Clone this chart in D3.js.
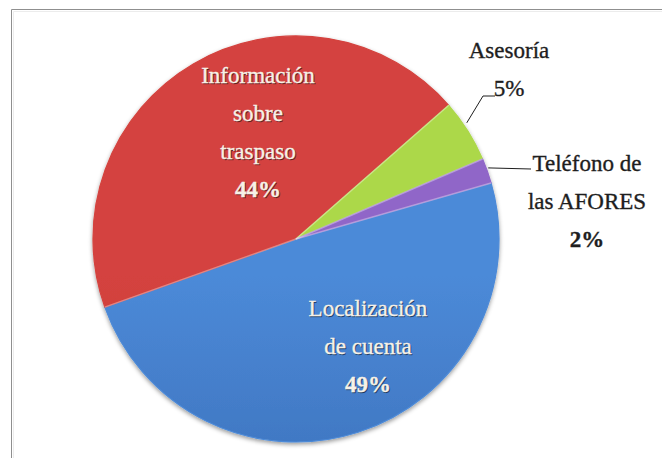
<!DOCTYPE html>
<html>
<head>
<meta charset="utf-8">
<script src="https://cdn.jsdelivr.net/npm/d3@7"></script>
<style>
  body { margin: 0; background: #fff; }
  svg { display: block; }
</style>
</head>
<body>
<div id="chart"></div>
<script>
//chart size
const width = 662;
const height = 458;

//data
const categories = ["Localización de cuenta", "Información sobre traspaso", "Asesoría", "Teléfono de las AFORES"];
const values = [49, 44, 5, 2];
const labelLines = [["Localización", "de cuenta"], ["Información", "sobre", "traspaso"], ["Asesoría"], ["Teléfono de", "las AFORES"]];
const pctLabels = ["49%", "44%", "5%", "2%"];

//colors for each slice (light top, dark bottom)
const lightColors = ["#4c8ad8", "#d4433f", "#acd84a", "#9066c8"];
const darkColors = ["#3160a8", "#bb302d", "#8fc131", "#7150aa"];

const cx = 296, cy = 239, radius = 203;
const fontFamily = '"Liberation Serif"';
const fontSize = "23px";

const svg = d3.select("#chart")
  .append("svg")
  .attr("width", width)
  .attr("height", height);

//frame around the chart
svg.append("path")
  .attr("d", `M11.5,${height} V9.5 H${width}`)
  .attr("fill", "none")
  .attr("stroke", "#8f8f8f");
svg.append("path")
  .attr("d", `M13.5,${height} V11.5 H${width}`)
  .attr("fill", "none")
  .attr("stroke", "#ececec");

const defs = svg.append("defs");

//vertical gradients for the slices
values.forEach((v, i) => {
  const g = defs.append("linearGradient")
    .attr("id", "grad" + i)
    .attr("gradientUnits", "userSpaceOnUse")
    .attr("x1", 0).attr("y1", cy - radius)
    .attr("x2", 0).attr("y2", cy + radius);
  g.append("stop").attr("offset", "0%").attr("stop-color", lightColors[i]);
  g.append("stop").attr("offset", "100%").attr("stop-color", darkColors[i]);
});

//soft shadow under the pie
const shadow = defs.append("filter").attr("id", "shadow")
  .attr("x", "-10%").attr("y", "-10%").attr("width", "120%").attr("height", "125%");
shadow.append("feDropShadow")
  .attr("dx", 0).attr("dy", 2).attr("stdDeviation", 2)
  .attr("flood-color", "#000").attr("flood-opacity", 0.4);

//pie layout, first slice starts at about 74 degrees
const startAngle = 74 * Math.PI / 180;
const pie = d3.pie()
  .sort(null)
  .value((d) => d)
  .startAngle(startAngle)
  .endAngle(startAngle + 2 * Math.PI);

const arcs = pie(values);

const arc = d3.arc().innerRadius(0).outerRadius(radius);
const edgeArc = d3.arc().innerRadius(radius).outerRadius(radius);

const pieG = svg.append("g")
  .attr("transform", `translate(${cx},${cy})`)
  .attr("filter", "url(#shadow)");

pieG.selectAll("path.slice")
  .data(arcs)
  .enter()
  .append("path")
  .attr("class", "slice")
  .attr("d", arc)
  .attr("fill", (d, i) => `url(#grad${i})`)
  .attr("stroke", (d, i) => lightColors[i])
  .attr("stroke-width", 1.2)
  .attr("stroke-linejoin", "round");

//light bevel along the straight edges
pieG.selectAll("path.bevel")
  .data(arcs)
  .enter()
  .append("path")
  .attr("class", "bevel")
  .attr("d", (d) => {
    const a = d.startAngle;
    return `M0,0 L${radius * Math.sin(a)},${-radius * Math.cos(a)}`;
  })
  .attr("stroke", "rgba(255,255,255,0.35)")
  .attr("stroke-width", 1.5);

//label layout: where each text block sits (x center, first line center y)
const labelPos = [
  { x: 368, y: 308, color: "#f6f1e7", inside: true },
  { x: 258, y: 75, color: "#f6f1e7", inside: true },
  { x: 509, y: 50, color: "#1e1e1e", inside: false },
  { x: 587, y: 163, color: "#1e1e1e", inside: false }
];
const lineGap = 38;

const labels = svg.append("g");

//one text line; inside labels get a dark copy underneath as a shadow
function addText(x, y, str, color, inside, weight) {
  const layers = inside ? [["rgba(0,0,0,0.45)", 1], [color, 0]] : [[color, 0]];
  layers.forEach(([fill, off]) => {
    labels.append("text")
      .style("font-family", fontFamily)
      .style("font-size", fontSize)
      .style("font-weight", weight)
      .attr("x", x + off)
      .attr("y", y + off)
      .attr("dy", "0.35em")
      .attr("text-anchor", "middle")
      .attr("fill", fill)
      .attr("stroke", fill)
      .attr("stroke-width", 0.35)
      .text(str);
  });
}

arcs.forEach((d, i) => {
  const p = labelPos[i];
  const lines = labelLines[i];
  lines.forEach((ln, k) => {
    addText(p.x, p.y + k * lineGap, ln, p.color, p.inside, "normal");
  });
  //percentage: under the name, except the small green slice where it sits beside the leader
  let px = p.x, py = p.y + lines.length * lineGap;
  if (i === 2) { px = 509; py = 88; }
  addText(px, py, pctLabels[i], p.color, p.inside, i === 2 ? "normal" : "bold");
});

//leader lines for the two small slices
const leaderG = svg.append("g")
  .attr("fill", "none")
  .attr("stroke", "#1e1e1e")
  .attr("stroke-width", 1);

const greenEdge = edgeArc.centroid(arcs[2]);
leaderG.append("polyline")
  .attr("points", [
    [cx + greenEdge[0] - 1, cy + greenEdge[1] - 8],
    [483, 96],
    [495, 96]
  ].map((p) => p.join(",")).join(" "));

const purpleEdge = edgeArc.centroid(arcs[3]);
leaderG.append("polyline")
  .attr("points", [
    [cx + purpleEdge[0] + 1, cy + purpleEdge[1] - 3],
    [531, 169]
  ].map((p) => p.join(",")).join(" "));
</script>
</body>
</html>
